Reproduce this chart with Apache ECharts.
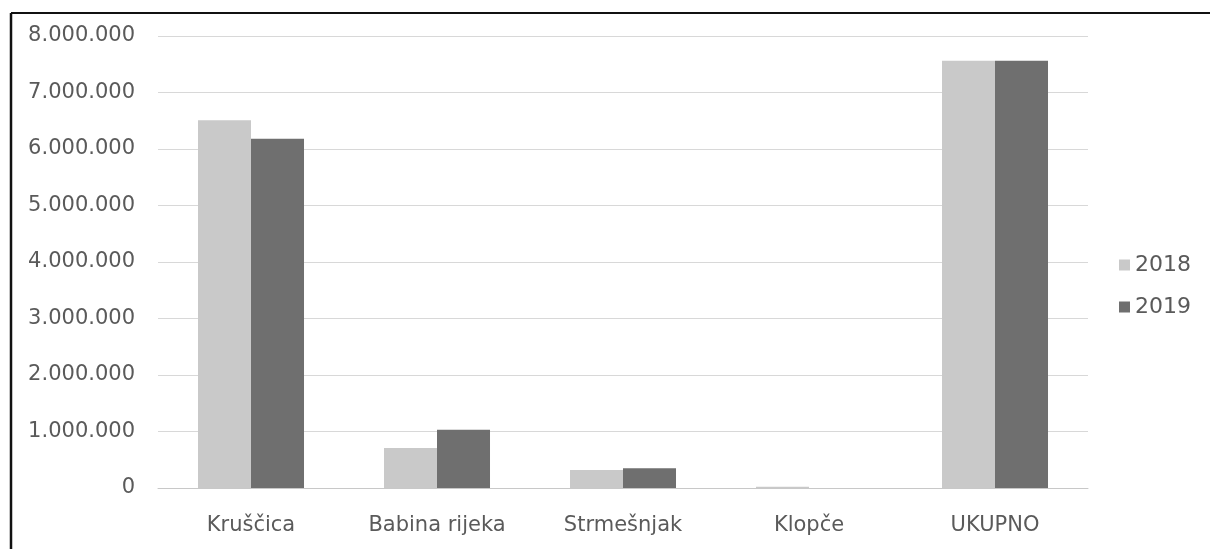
<!DOCTYPE html>
<html><head><meta charset="utf-8">
<script src="https://cdn.jsdelivr.net/npm/echarts@6/dist/echarts.min.js"></script>
<style>html,body{margin:0;padding:0;background:#fff}#c{width:1210px;height:549px}</style>
</head><body><div id="c"></div>
<script>
const categories = ['Kruščica', 'Babina rijeka', 'Strmešnjak', 'Klopče', 'UKUPNO'];
const seriesNames = ['2018', '2019'];
const values2018 = [6510000, 710000, 320000, 20000, 7560000];
const values2019 = [6180000, 1030000, 350000, 0, 7560000];
const yTicks = { min: 0, max: 8000000, interval: 1000000 };

const chart = echarts.init(document.getElementById('c'), null, { renderer: 'canvas' });
const fmt = v => String(v).replace(/\B(?=(\d{3})+(?!\d))/g, '.');
const FONT = 'DejaVu Sans';
chart.setOption({
  animation: false,
  backgroundColor: '#fff',
  graphic: [
    { type: 'line', shape: { x1: 11, y1: 13, x2: 1210, y2: 13 }, style: { stroke: '#111', lineWidth: 2 } },
    { type: 'line', shape: { x1: 11, y1: 13, x2: 11, y2: 549 }, style: { stroke: '#111', lineWidth: 2.5 } }
  ],
  grid: { left: 158, right: 122, top: 36, bottom: 61, containLabel: false },
  legend: {
    orient: 'vertical', left: 1114, top: 249, itemWidth: 11, itemHeight: 11, itemGap: 20,
    icon: 'rect', textStyle: { fontSize: 22, color: '#5a5a5a', fontFamily: FONT },
    data: seriesNames
  },
  xAxis: {
    type: 'category', data: categories,
    axisLine: { lineStyle: { color: '#c8c8c8', width: 1 } },
    axisTick: { show: false },
    axisLabel: { fontSize: 21, color: '#5a5a5a', margin: 27, fontFamily: FONT }
  },
  yAxis: {
    type: 'value', min: yTicks.min, max: yTicks.max, interval: yTicks.interval,
    axisLine: { show: false }, axisTick: { show: false },
    splitLine: { lineStyle: { color: '#d8d8d8', width: 1 } },
    axisLabel: { fontSize: 21, color: '#5a5a5a', margin: 23, fontFamily: FONT, formatter: fmt }
  },
  series: [
    { name: seriesNames[0], type: 'bar', data: values2018, barGap: '0%', barCategoryGap: '43%',
      itemStyle: { color: '#c9c9c9' } },
    { name: seriesNames[1], type: 'bar', data: values2019, barGap: '0%', barCategoryGap: '43%',
      itemStyle: { color: '#6f6f6f' } }
  ]
});
</script></body></html>
